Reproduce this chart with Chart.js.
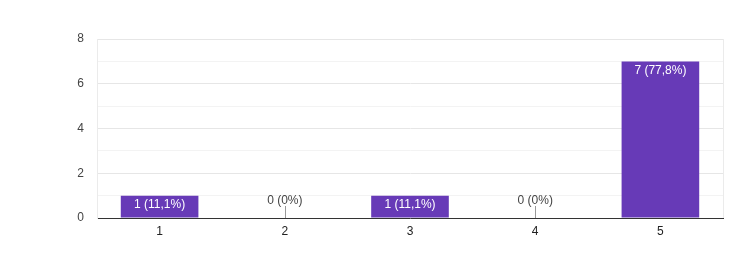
<!DOCTYPE html>
<html>
<head>
<meta charset="utf-8">
<script src="https://cdn.jsdelivr.net/npm/chart.js@4"></script>
<style>
  html, body { margin: 0; padding: 0; background: #fff; }
  #wrap { width: 748px; height: 279px; }
</style>
</head>
<body>
<div id="wrap"><canvas id="grafico" width="748" height="279"></canvas></div>
<script>
var categorias = ['1', '2', '3', '4', '5'];
var respuestas = [1, 0, 1, 0, 7];
var porcentajes = ['11,1%', '0%', '11,1%', '0%', '77,8%'];
var marcasY = [0, 2, 4, 6, 8];

// etiquetas de valor sobre/dentro de las barras
var etiquetasBarras = {
    id: 'etiquetasBarras',
    afterDatasetsDraw: function (chart) {
        var ctx = chart.ctx;
        var area = chart.chartArea;
        var meta = chart.getDatasetMeta(0);
        ctx.save();
        // borde derecho del área
        ctx.strokeStyle = '#ebebeb';
        ctx.lineWidth = 1;
        ctx.beginPath();
        ctx.moveTo(Math.round(area.right) + 0.5, area.top);
        ctx.lineTo(Math.round(area.right) + 0.5, area.bottom);
        ctx.stroke();

        ctx.font = '12px "Liberation Sans", Arial, sans-serif';
        ctx.textAlign = 'center';
        meta.data.forEach(function (barra, i) {
            var texto = respuestas[i] + ' (' + porcentajes[i] + ')';
            if (respuestas[i] > 0) {
                ctx.fillStyle = '#ffffff';
                ctx.textBaseline = 'top';
                ctx.fillText(texto, barra.x, barra.y + 3);
            } else {
                var xs = Math.round(barra.x) + 0.5;
                ctx.strokeStyle = '#999999';
                ctx.beginPath();
                ctx.moveTo(xs, barra.y - 12);
                ctx.lineTo(xs, barra.y);
                ctx.stroke();
                ctx.fillStyle = '#444444';
                ctx.textBaseline = 'alphabetic';
                ctx.fillText(texto, barra.x, barra.y - 14);
            }
        });
        ctx.restore();
    }
};

var ctx = document.getElementById('grafico').getContext('2d');
var chart = new Chart(ctx, {
    type: 'bar',
    data: {
        labels: categorias,
        datasets: [{
            data: respuestas,
            backgroundColor: '#673ab7',
            borderWidth: 0,
            categoryPercentage: 1,
            barPercentage: 0.62
        }]
    },
    options: {
        responsive: false,
        animation: false,
        layout: { padding: { top: 39, right: 25, left: 0, bottom: 0 } },
        plugins: {
            legend: { display: false },
            tooltip: { enabled: false }
        },
        scales: {
            x: {
                grid: { display: false, drawTicks: false },
                border: { display: true, color: '#333333', width: 1 },
                ticks: {
                    color: '#222222',
                    padding: 6,
                    font: { family: '"Liberation Sans", Arial, sans-serif', size: 12 }
                },
                afterFit: function (scale) { scale.height = 61; }
            },
            y: {
                min: 0,
                max: 8,
                grid: {
                    drawTicks: false,
                    color: function (c) {
                        return c.tick && c.tick.value % 2 === 0 ? '#e6e6e6' : '#f3f3f3';
                    }
                },
                border: { display: true, color: '#ebebeb' },
                ticks: {
                    stepSize: 1,
                    padding: 13,
                    color: '#444444',
                    font: { family: '"Liberation Sans", Arial, sans-serif', size: 12 },
                    callback: function (v) { return marcasY.indexOf(v) >= 0 ? v : ''; }
                },
                afterFit: function (scale) { scale.width = 97; }
            }
        }
    },
    plugins: [etiquetasBarras]
});
</script>
</body>
</html>
